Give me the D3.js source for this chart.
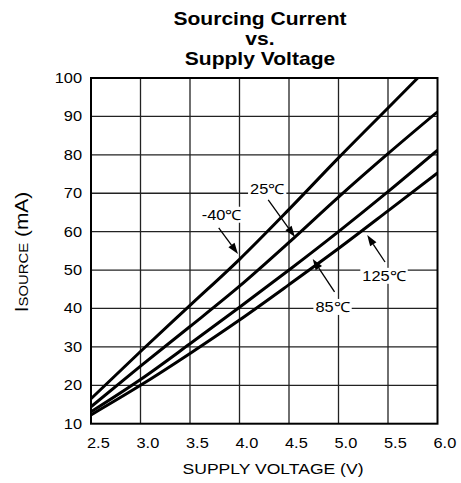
<!DOCTYPE html>
<html>
<head>
<meta charset="utf-8">
<script src="https://cdn.jsdelivr.net/npm/d3@7"></script>
<style>
  body { margin: 0; background: #fff; }
  text { font-family: "Liberation Sans", Arial, sans-serif; fill: #000; }
</style>
</head>
<body>
<script>
    // supply voltage (V) sample points
    var voltage = [2.5, 3.0, 3.5, 4.0, 4.5, 5.0, 5.5, 6.0];
    // sourcing current (mA) for each temperature
    var curM40 = [16.5, 28.8, 40.8, 52.8, 65.8, 79.2, 92.2, 105.2];
    var cur25 = [14.4, 25.0, 35.3, 45.8, 57.2, 69.0, 80.3, 91.2];
    var cur85 = [13.1, 21.5, 30.8, 40.3, 50.0, 60.0, 70.4, 81.2];
    var cur125 = [12.3, 20.0, 28.3, 37.0, 46.2, 55.6, 65.4, 75.3];
    var seriesNames = ["-40\u2103", "25\u2103", "85\u2103", "125\u2103"];

    var xTicks = [2.5, 3.0, 3.5, 4.0, 4.5, 5.0, 5.5, 6.0];
    var yTicks = [10, 20, 30, 40, 50, 60, 70, 80, 90, 100];

    // callouts: label centre and arrow start/end, in data units (V, mA)
    var calloutText = ["-40\u2103", "25\u2103", "125\u2103", "85\u2103"];
    var calloutLabel = [[3.82, 64.4], [4.28, 71.2], [5.46, 48.5], [4.94, 40.4]];
    var calloutFrom = [[3.79, 61.0], [4.29, 68.3], [5.47, 52.1], [4.96, 44.3]];
    var calloutTo = [[3.985, 54.2], [4.56, 58.6], [5.29, 59.1], [4.74, 52.9]];

    var SX = 1.17; // the original lettering is a little wide

    var svg = d3.select('body').append('svg')
            .attr('width', 461)
            .attr('height', 483);

    var x = d3.scaleLinear().domain([2.5, 6.0]).range([91, 437.5]);
    var y = d3.scaleLinear().domain([10, 100]).range([423.7, 78]);

    function sText(parent, px, py, str, size, anchor, weight) {
        return parent.append('text')
                .attr('transform', 'translate(' + px + ',' + py + ') scale(' + SX + ',1)')
                .attr('text-anchor', anchor || 'middle')
                .attr('font-size', size)
                .attr('font-weight', weight || 'normal')
                .text(str);
    }

    // TITLE
    sText(svg, 260, 25, 'Sourcing Current', 18, 'middle', 'bold');
    sText(svg, 260, 45, 'vs.', 18, 'middle', 'bold');
    sText(svg, 260, 65, 'Supply Voltage', 18, 'middle', 'bold');

    // GRID
    var grid = svg.append('g');
    grid.selectAll('line.v')
            .data(xTicks.slice(1, -1))
            .enter().append('line')
            .attr('x1', d => x(d)).attr('x2', d => x(d))
            .attr('y1', y(10)).attr('y2', y(100))
            .attr('stroke', '#222').attr('stroke-width', 1.3);
    grid.selectAll('line.h')
            .data(yTicks.slice(1, -1))
            .enter().append('line')
            .attr('y1', d => y(d)).attr('y2', d => y(d))
            .attr('x1', x(2.5)).attr('x2', x(6.0))
            .attr('stroke', '#222').attr('stroke-width', 1.3);

    // CURVES
    svg.append('clipPath').attr('id', 'plot')
            .append('rect')
            .attr('x', x(2.5)).attr('y', y(100))
            .attr('width', x(6.0) - x(2.5)).attr('height', y(10) - y(100));

    var line = d3.line()
            .x(d => x(d[0]))
            .y(d => y(d[1]))
            .curve(d3.curveMonotoneX);

    var series = [curM40, cur25, cur85, cur125];
    svg.append('g').attr('clip-path', 'url(#plot)')
            .selectAll('path')
            .data(series)
            .enter().append('path')
            .attr('d', s => line(d3.zip(voltage, s)))
            .attr('fill', 'none')
            .attr('stroke', '#000')
            .attr('stroke-width', 3);

    // FRAME
    svg.append('rect')
            .attr('x', x(2.5)).attr('y', y(100))
            .attr('width', x(6.0) - x(2.5)).attr('height', y(10) - y(100))
            .attr('fill', 'none').attr('stroke', '#000').attr('stroke-width', 2);

    // TICK LABELS
    yTicks.forEach(function (t) {
        sText(svg, 82, y(t) + 5, t, 14, 'end');
    });
    xTicks.forEach(function (t) {
        sText(svg, x(t) - 4, 448, t.toFixed(1), 14, 'start');
    });

    // AXIS TITLES
    sText(svg, 273, 474, 'SUPPLY VOLTAGE (V)', 15, 'middle');

    var yl = svg.append('text')
            .attr('transform', 'translate(28,252) rotate(-90) scale(1.1,1)')
            .attr('text-anchor', 'middle')
            .attr('font-size', 19);
    yl.append('tspan').text('I');
    yl.append('tspan').attr('font-size', 13.5).text('SOURCE');
    yl.append('tspan').text(' (mA)');

    // CALLOUTS
    var co = svg.append('g');
    calloutText.forEach(function (txt, i) {
        var lx = x(calloutLabel[i][0]), ly = y(calloutLabel[i][1]);
        var t = sText(co, lx, ly + 5, txt, 14, 'middle');
        var bb = t.node().getBBox();
        var w = bb.width * SX + 4;
        co.insert('rect', 'text')
                .attr('x', lx - w / 2).attr('y', ly - 8)
                .attr('width', w).attr('height', 16)
                .attr('fill', '#fff');

        var x1 = x(calloutFrom[i][0]), y1 = y(calloutFrom[i][1]);
        var x2 = x(calloutTo[i][0]), y2 = y(calloutTo[i][1]);
        var a = Math.atan2(y2 - y1, x2 - x1), L = 11, hw = 3.8;
        var bx = x2 - L * Math.cos(a), by = y2 - L * Math.sin(a);
        co.append('line')
                .attr('x1', x1).attr('y1', y1).attr('x2', bx).attr('y2', by)
                .attr('stroke', '#000').attr('stroke-width', 1.3);
        co.append('path')
                .attr('d', 'M' + x2 + ',' + y2 +
                        'L' + (bx + hw * Math.sin(a)) + ',' + (by - hw * Math.cos(a)) +
                        'L' + (bx - hw * Math.sin(a)) + ',' + (by + hw * Math.cos(a)) + 'Z')
                .attr('fill', '#000');
    });
</script>
</body>
</html>
